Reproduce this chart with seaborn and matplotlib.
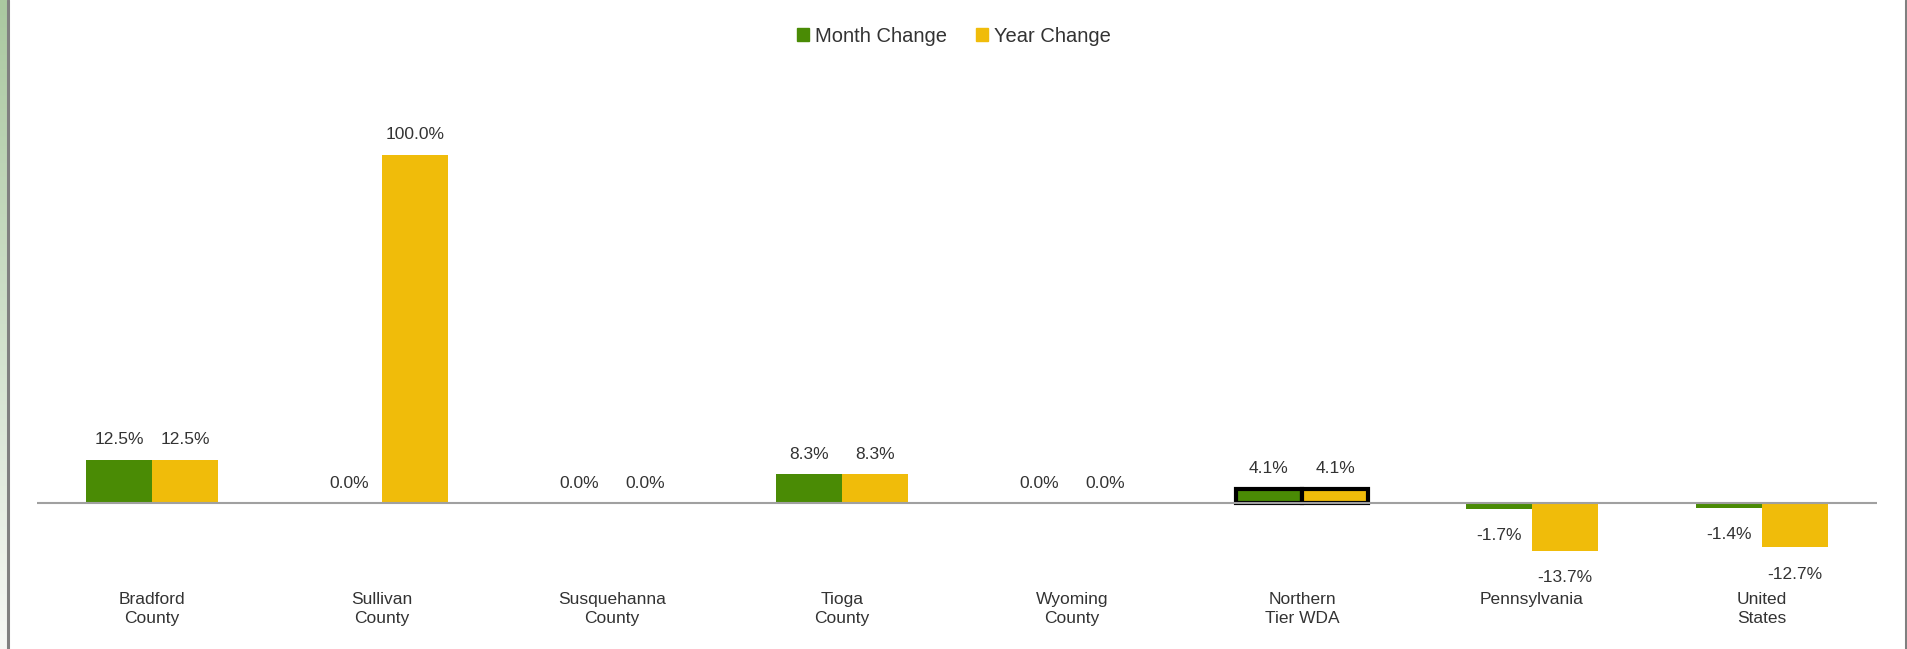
import numpy as np
import pandas as pd
import matplotlib
matplotlib.use("Agg")
import matplotlib.pyplot as plt
import seaborn as sns

# chart data
areas = ["Bradford\nCounty", "Sullivan\nCounty", "Susquehanna\nCounty", "Tioga\nCounty",
         "Wyoming\nCounty", "Northern\nTier WDA", "Pennsylvania", "United\nStates"]
month_change = [12.5, 0.0, 0.0, 8.3, 0.0, 4.1, -1.7, -1.4]
year_change = [12.5, 100.0, 0.0, 8.3, 0.0, 4.1, -13.7, -12.7]
series = ["Month Change", "Year Change"]
colors = ["#4A8B05", "#F0BC0A"]
highlight = "Northern\nTier WDA"

df = pd.DataFrame({
    "area": areas * 2,
    "series": [series[0]] * len(areas) + [series[1]] * len(areas),
    "value": month_change + year_change,
})

sns.set_theme(style="white")
plt.rcParams["font.family"] = ["Liberation Sans", "DejaVu Sans"]
text_color = "#333333"

fig = plt.figure(figsize=(19.08, 6.49), dpi=100)
ax = fig.add_axes([37 / 1908, 0.1391, 1840 / 1908, 0.6489])

sns.barplot(data=df, x="area", y="value", hue="series", order=areas,
            hue_order=series, palette=colors, width=0.574, gap=0,
            saturation=1, ax=ax, errorbar=None, linewidth=0)

ax.set_ylim(-16, 105)
ax.set_xlim(-0.5, len(areas) - 0.5)
ax.axhline(0, color="#A0A0A0", lw=1.5, zorder=1)
for s in ax.spines.values():
    s.set_visible(False)
ax.set_yticks([])
ax.set_xlabel("")
ax.set_ylabel("")
ax.tick_params(axis="x", length=0, pad=24, labelsize=12.5, labelcolor=text_color)
for t in ax.get_xticklabels():
    t.set_linespacing(1.3)

# value labels and highlight of the selected group
for cont in ax.containers:
    for i, bar in enumerate(cont):
        v = bar.get_height()
        x = bar.get_x() + bar.get_width() / 2
        if v >= 0:
            ax.annotate(f"{v:.1f}%", (x, v), xytext=(0, 9), textcoords="offset points",
                        ha="center", va="bottom", fontsize=12.5, color=text_color)
        else:
            ax.annotate(f"{v:.1f}%", (x, v), xytext=(0, -14), textcoords="offset points",
                        ha="center", va="top", fontsize=12.5, color=text_color)
        if areas[i] == highlight:
            bar.set_edgecolor("black")
            bar.set_linewidth(3)

ax.get_legend().remove()
handles = [plt.Rectangle((0, 0), 1, 1, color=c) for c in colors]
fig.legend(handles, series, loc="center", bbox_to_anchor=(0.5, 0.944), ncol=2,
           frameon=False, fontsize=14.5, handlelength=0.6, handleheight=0.6,
           handletextpad=0.3, columnspacing=1.4, labelcolor=text_color)

# window frame of the screenshot
strip = fig.add_axes([0, 0, 7 / 1908, 1])
grad = np.linspace(0, 1, 256)[:, None, None]
top = np.array([170, 200, 160]) / 255
bottom = np.array([246, 248, 245]) / 255
strip.imshow(top + (bottom - top) * grad, aspect="auto")
strip.axis("off")
fig.add_artist(plt.Line2D([8.5 / 1908] * 2, [0, 1], color="#808080", lw=2.2))
fig.add_artist(plt.Line2D([1906.5 / 1908] * 2, [0, 1], color="#808080", lw=2.2))

fig.savefig("out.png", dpi=100, facecolor="white")
